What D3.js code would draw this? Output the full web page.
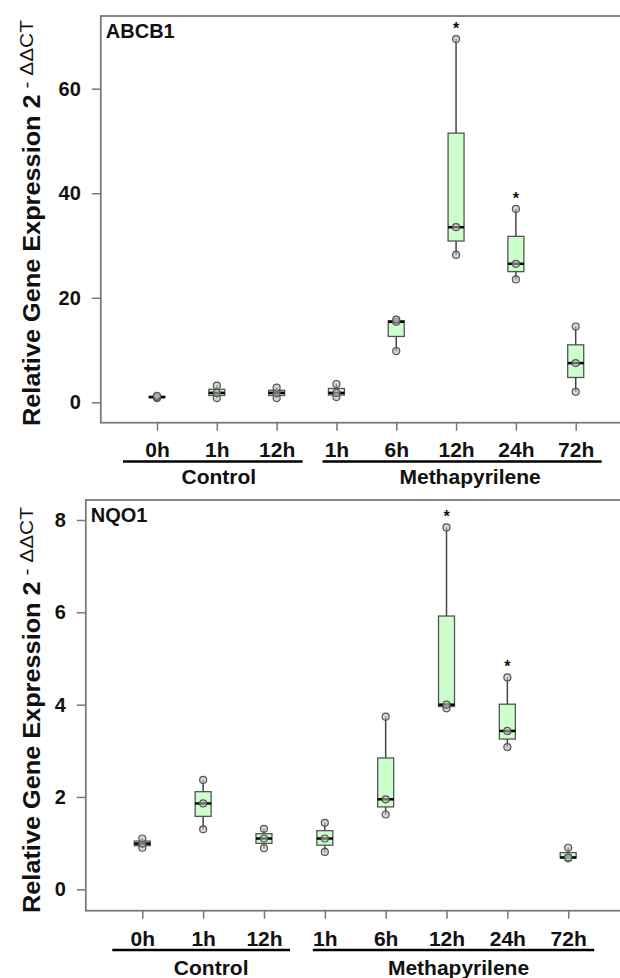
<!DOCTYPE html>
<html>
<head>
<meta charset="utf-8">
<script src="https://cdn.jsdelivr.net/npm/d3@7"></script>
<style>
  body { margin: 0; background: #fff; }
  text { font-family: "Liberation Sans", Arial, sans-serif; font-weight: bold; fill: #111; }
</style>
</head>
<body>
<div id="chart"></div>
<script>
// time points, shared by both panels
var timeLabels = ["0h", "1h", "12h", "1h", "6h", "12h", "24h", "72h"];
var groupNames = ["Control", "Methapyrilene"];
var groupFirst = [0, 3];
var groupLast = [2, 7];

// three replicates per time point
var abcb1Values = [
    [0.8, 1.0, 1.25],
    [0.8, 1.8, 3.2],
    [0.8, 1.8, 2.8],
    [1.0, 1.8, 3.5],
    [9.8, 15.4, 15.8],
    [28.2, 33.5, 69.5],
    [23.5, 26.5, 37.0],
    [2.0, 7.5, 14.5]
];
var abcb1Signif = [false, false, false, false, false, true, true, false];
var abcb1Ticks = [0, 20, 40, 60];

var nqo1Values = [
    [0.90, 0.99, 1.10],
    [1.30, 1.86, 2.37],
    [0.89, 1.10, 1.31],
    [0.81, 1.10, 1.44],
    [1.62, 1.95, 3.74],
    [3.92, 4.00, 7.84],
    [3.08, 3.43, 4.59],
    [0.67, 0.69, 0.90]
];
var nqo1Signif = [false, false, false, false, false, true, true, false];
var nqo1Ticks = [0, 2, 4, 6, 8];

var svg = d3.select("#chart")
    .append("svg")
    .attr("width", 620)
    .attr("height", 978);

/**
* Draws one boxplot panel
*/
function drawPanel(opt){
    var x = d3.scaleLinear().domain([1, 8]).range([opt.x1, opt.x8]);
    var y = d3.scaleLinear().domain([0, opt.yMax]).range([opt.y0, opt.yTop]);
    var boxW = 16;

    var g = svg.append("g");

    // y axis
    g.append("g")
        .attr("transform", "translate(" + opt.left + ",0)")
        .call(d3.axisLeft(y).tickValues(opt.ticks).tickSize(9).tickPadding(11))
        .call(function(a){
            a.select(".domain").remove();
            a.selectAll(".tick line").attr("stroke", "#777").attr("stroke-width", 1.5);
            a.selectAll(".tick text").attr("font-size", 20).attr("fill", "#111")
                .attr("font-family", "Liberation Sans, Arial, sans-serif").attr("font-weight", "bold");
        });

    // x axis
    g.append("g")
        .attr("transform", "translate(0," + opt.bottom + ")")
        .call(d3.axisBottom(x).tickValues(d3.range(1, 9)).tickSize(8)
            .tickFormat(function(d){ return timeLabels[d - 1]; }))
        .call(function(a){
            a.select(".domain").remove();
            a.selectAll(".tick line").attr("stroke", "#777").attr("stroke-width", 1.5);
            a.selectAll(".tick text").attr("font-size", 21).attr("fill", "#111")
                .attr("font-family", "Liberation Sans, Arial, sans-serif").attr("font-weight", "bold")
                .attr("dy", 0).attr("y", opt.labelY - opt.bottom);
        });

    // frame
    g.append("rect")
        .attr("x", opt.left)
        .attr("y", opt.top)
        .attr("width", 660 - opt.left)
        .attr("height", opt.bottom - opt.top)
        .attr("fill", "none")
        .attr("stroke", "#7a7a7a")
        .attr("stroke-width", 1.8);

    g.append("text")
        .attr("x", opt.left + 5)
        .attr("y", opt.top + 22)
        .attr("font-size", 20)
        .text(opt.title);

    // boxes
    opt.values.forEach(function(vals, i){
        var s = vals.slice().sort(d3.ascending);
        var q1 = d3.quantile(s, 0.25), med = d3.quantile(s, 0.5), q3 = d3.quantile(s, 0.75);
        var cx = x(i + 1);
        var b = g.append("g");

        b.append("line")
            .attr("x1", cx).attr("x2", cx)
            .attr("y1", y(s[0])).attr("y2", y(s[s.length - 1]))
            .attr("stroke", "#444").attr("stroke-width", 1.5);
        b.append("rect")
            .attr("x", cx - boxW / 2)
            .attr("y", y(q3))
            .attr("width", boxW)
            .attr("height", Math.max(1, y(q1) - y(q3)))
            .attr("fill", "#ccffcc")
            .attr("stroke", "#555")
            .attr("stroke-width", 1.3);
        b.append("line")
            .attr("x1", cx - boxW / 2).attr("x2", cx + boxW / 2)
            .attr("y1", y(med)).attr("y2", y(med))
            .attr("stroke", "#000").attr("stroke-width", 2.5);

        b.selectAll("circle")
            .data(s)
            .enter()
            .append("circle")
            .attr("cx", cx)
            .attr("cy", function(d){ return y(d); })
            .attr("r", 3.5)
            .attr("fill", "#bbb")
            .attr("fill-opacity", 0.6)
            .attr("stroke", "#555")
            .attr("stroke-width", 1.2);

        if( opt.signif[i] ){
            b.append("text")
                .attr("x", cx)
                .attr("y", y(s[s.length - 1]) - 5)
                .attr("text-anchor", "middle")
                .attr("font-size", 16)
                .attr("font-weight", "normal")
                .attr("fill", "#555")
                .text("*");
        }
    });

    // group underlines and names
    groupNames.forEach(function(name, k){
        g.append("line")
            .attr("x1", x(groupFirst[k] + 1) - opt.lineLeft[k])
            .attr("x2", x(groupLast[k] + 1) + 26)
            .attr("y1", opt.lineY).attr("y2", opt.lineY)
            .attr("stroke", "#000").attr("stroke-width", 2.5);
        g.append("text")
            .attr("x", (x(groupFirst[k] + 1) + x(groupLast[k] + 1)) / 2 + opt.nameShift[k])
            .attr("y", opt.groupY)
            .attr("text-anchor", "middle")
            .attr("font-size", 21)
            .text(name);
    });

    // y label
    var yl = g.append("text")
        .attr("transform", "translate(40," + opt.yLabelMid + ") rotate(-90) scale(1.1,1)")
        .attr("text-anchor", "middle")
        .attr("font-size", 23);
    yl.append("tspan").text("Relative Gene Expression 2");
    yl.append("tspan").attr("dy", -7).attr("font-size", 19).attr("font-weight", "normal")
        .text(" - \u0394\u0394CT");
}

drawPanel({
    title: "ABCB1", values: abcb1Values, signif: abcb1Signif, ticks: abcb1Ticks,
    yMax: 60, y0: 402.3, yTop: 88.7,
    x1: 157, x8: 575.7,
    left: 100.8, top: 16, bottom: 422.7,
    labelY: 457, lineY: 461.5, lineLeft: [34, 14], nameShift: [2, 14],
    groupY: 484, yLabelMid: 223
});

drawPanel({
    title: "NQO1", values: nqo1Values, signif: nqo1Signif, ticks: nqo1Ticks,
    yMax: 8, y0: 889.3, yTop: 520,
    x1: 142.3, x8: 568.2,
    left: 85.8, top: 500, bottom: 910.7,
    labelY: 946, lineY: 950, lineLeft: [30, 12], nameShift: [8, 12],
    groupY: 975, yLabelMid: 710
});
</script>
</body>
</html>
